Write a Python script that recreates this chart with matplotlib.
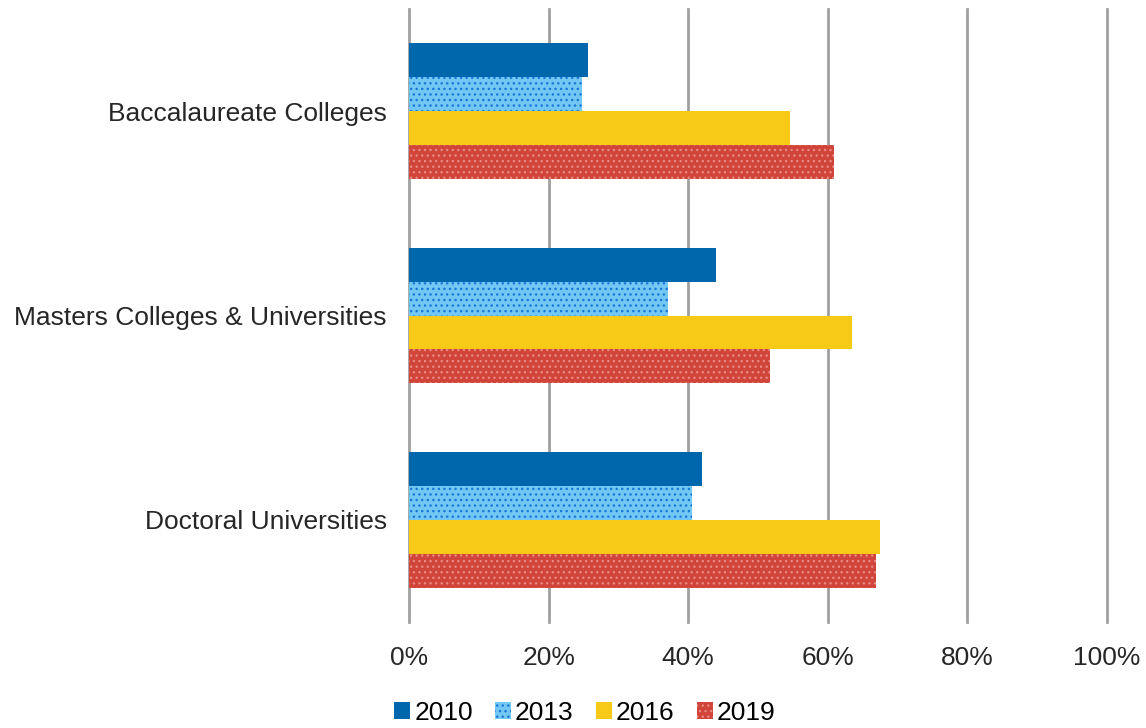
import numpy as np
import matplotlib.pyplot as plt
from matplotlib.patches import Patch

plt.rcParams['font.family'] = ['Liberation Sans', 'DejaVu Sans']
plt.rcParams['hatch.linewidth'] = 1.0

categories = ['Doctoral Universities', 'Masters Colleges & Universities', 'Baccalaureate Colleges']
years = ['2010', '2013', '2016', '2019']
v2010 = [42.0, 44.0, 25.6]
v2013 = [40.5, 37.1, 24.8]
v2016 = [67.5, 63.5, 54.6]
v2019 = [66.9, 51.7, 60.9]

series = [v2010, v2013, v2016, v2019]
faces = ['#0067ac', '#72c8f2', '#f7ca18', '#d0443a']
hatch_cols = ['#0067ac', '#1a78dc', '#f7ca18', '#e88880']
hatches = [None, '...', None, '...']

fig = plt.figure(figsize=(11.46, 7.28), dpi=100)
ax = fig.add_axes([409 / 1146, 1 - 622 / 728, (1107 - 409) / 1146, (622 - 9) / 728])

y = np.arange(len(categories))
h = 0.166
for i, (vals, fc, hc, ht) in enumerate(zip(series, faces, hatch_cols, hatches)):
    # first series sits on top inside each group
    pos = y + (1.5 - i) * h
    ax.barh(pos, vals, height=h, color=fc, edgecolor=hc, linewidth=0,
            hatch=ht, zorder=3)

ax.set_xlim(0, 100)
ax.set_ylim(-0.5, 2.5)
ax.set_xticks(np.arange(0, 101, 20))
ax.set_xticklabels([f'{t}%' for t in range(0, 101, 20)])
ax.set_yticks(y)
ax.set_yticklabels(categories)
ax.tick_params(axis='both', length=0, labelsize=19, colors='#262626')
ax.tick_params(axis='x', pad=17)
ax.tick_params(axis='y', pad=16)
ax.grid(axis='x', color='#a0a0a0', linewidth=2, zorder=0)
for gl in ax.get_xgridlines():
    gl.set_clip_on(False)
for s in ax.spines.values():
    s.set_visible(False)

handles = [Patch(facecolor=fc, edgecolor=hc, linewidth=0, hatch=ht, label=yr)
           for fc, hc, ht, yr in zip(faces, hatch_cols, hatches, years)]
fig.legend(handles=handles, loc='center', bbox_to_anchor=(585 / 1146, 1 - 713 / 728),
           ncol=4, frameon=False, fontsize=19, handlelength=0.6, handleheight=0.6,
           handletextpad=0.15, columnspacing=0.85)

fig.savefig('out.png', dpi=100)
